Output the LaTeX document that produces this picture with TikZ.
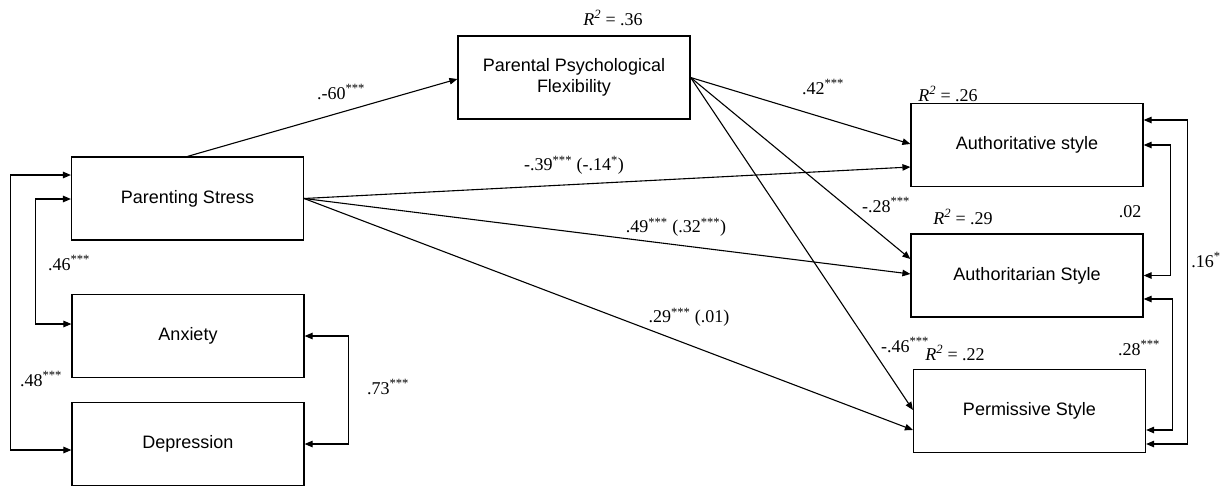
\documentclass[tikz,border=0pt]{standalone}
\usepackage{fontspec}
\setmainfont{Liberation Serif}
\newfontfamily\boxfont{Liberation Sans}
\usetikzlibrary{arrows.meta,calc}
\newcommand\sg[1]{\textsuperscript{#1}}
\newcommand\rsq{\textit{R\textsuperscript{2}}}
\begin{document}
\begin{tikzpicture}[x=1pt,y=-1pt,
  box/.style={draw, line width=1.2pt, minimum width=232pt, minimum height=83pt, inner sep=0pt,
    font=\boxfont\fontsize{18}{21}\selectfont, align=center},
  lab/.style={font=\fontsize{18}{20}\selectfont, inner sep=0pt},
  arr/.style={line width=1.1pt, -{Triangle[length=8pt,width=6.5pt]}},
  dbl/.style={line width=1.1pt, {Triangle[length=8pt,width=6.5pt]}-{Triangle[length=8pt,width=6.5pt]}}]
\useasboundingbox (0,0) rectangle (1223,487);
\fill[white] (0,0) rectangle (1223,487);

% boxes
\node[box] (ps)  at (187.5,198.5) {Parenting Stress};
\node[box] (anx) at (188,336)     {Anxiety};
\node[box] (dep) at (188,444)     {Depression};
\node[box] (ppf) at (574,77.5)    {Parental Psychological\\Flexibility};
\node[box] (aut) at (1027,145)    {Authoritative style};
\node[box] (atn) at (1027,275.5)  {Authoritarian Style};
\node[box] (per) at (1029.5,411)  {Permissive Style};

% paths
\draw[arr] (ps.north) -- ($(ppf.west)+(0,1.5)$);
\draw[arr] (ppf.east) -- ($(aut.west)+(0,-1)$);
\draw[arr] (ppf.east) -- ($(atn.west)+(0,-16.5)$);
\draw[arr] (ppf.east) -- ($(per.west)+(0,-1)$);
\draw[arr] (ps.east) -- ($(aut.west)+(0,22)$);
\draw[arr] (ps.east) -- ($(atn.west)+(0,-1.5)$);
\draw[arr] (ps.east) -- ($(per.west)+(0,19)$);

% correlations left
\draw[dbl] ($(ps.west)+(0,-23.5)$) -- ++(-60.5,0) |- ($(dep.west)+(0,6)$);
\draw[dbl] ($(ps.west)+(0,0.5)$) -- ++(-35.5,0) |- ($(anx.west)+(0,-12)$);
\draw[dbl] (anx.east) -- ++(44,0) |- (dep.east);

% correlations right
\draw[dbl] ($(aut.east)+(0,-25)$) -- ++(44,0) |- ($(per.east)+(0,33)$);
\draw[dbl] (aut.east) -- ++(27,0) |- (atn.east);
\draw[dbl] ($(atn.east)+(0,23.5)$) -- ++(29,0) |- ($(per.east)+(0,19)$);

% labels
\node[lab] (l60)  at (341,92)   {.-60\sg{***}};
\node[lab] (r36)  at (613,18)   {\rsq{} = .36};
\node[lab] (l42)  at (823,87)   {.42\sg{***}};
\node[lab] (r26)  at (948,94)   {\rsq{} = .26};
\node[lab] (l39)  at (574,165)  {-.39\sg{***} (-.14\sg{*})};
\node[lab] (l49)  at (676,227)  {.49\sg{***} (.32\sg{***})};
\node[lab] (l29)  at (689,317)  {.29\sg{***} (.01)};
\node[lab] (l28)  at (886,205)  {-.28\sg{***}};
\node[lab] (r29)  at (963,217)  {\rsq{} = .29};
\node[lab] (l46b) at (905,345)  {-.46\sg{***}};
\node[lab] (r22)  at (955,353)  {\rsq{} = .22};
\node[lab] (l02)  at (1130,212) {.02};
\node[lab] (l28b) at (1139,348) {.28\sg{***}};
\node[lab] (l16)  at (1206,260) {.16\sg{*}};
\node[lab] (l46)  at (69,263)   {.46\sg{***}};
\node[lab] (l48)  at (41,379)   {.48\sg{***}};
\node[lab] (l73)  at (388,387)  {.73\sg{***}};
\end{tikzpicture}
\end{document}
